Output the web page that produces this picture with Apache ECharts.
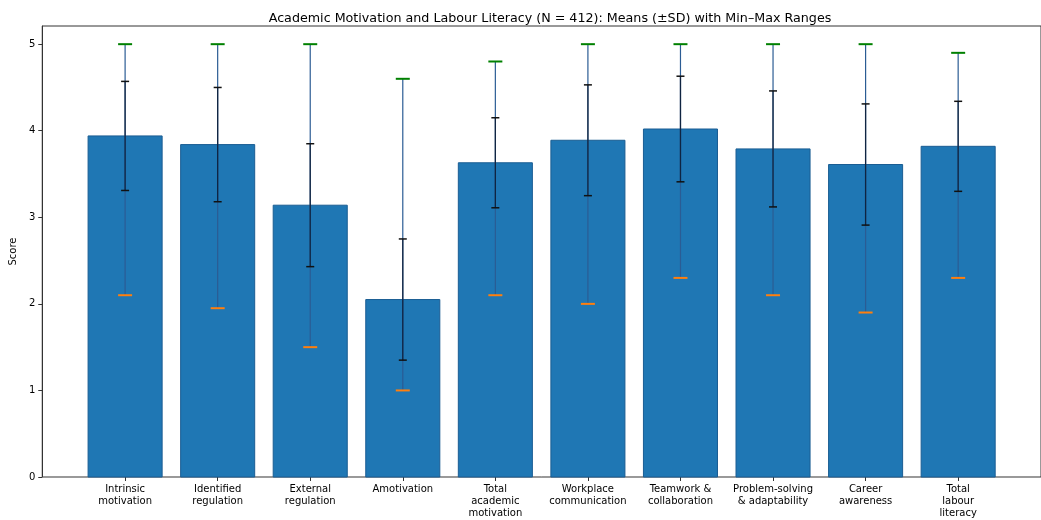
<!DOCTYPE html>
<html>
<head>
<meta charset="utf-8">
<script src="https://cdn.jsdelivr.net/npm/echarts@6/dist/echarts.min.js"></script>
<style>
  html, body { margin: 0; padding: 0; background: #ffffff; }
  #chart { width: 1041px; height: 520px; }
</style>
</head>
<body>
<div id="chart"></div>
<script>
// Subscale summaries (N = 412)
const categories = [
  'Intrinsic\nmotivation',
  'Identified\nregulation',
  'External\nregulation',
  'Amotivation',
  'Total\nacademic\nmotivation',
  'Workplace\ncommunication',
  'Teamwork &\ncollaboration',
  'Problem-solving\n& adaptability',
  'Career\nawareness',
  'Total\nlabour\nliteracy'
];
const means = [3.94, 3.84, 3.14, 2.05, 3.63, 3.89, 4.02, 3.79, 3.61, 3.82];
const sds   = [0.63, 0.66, 0.71, 0.70, 0.52, 0.64, 0.61, 0.67, 0.70, 0.52];
const mins  = [2.10, 1.95, 1.50, 1.00, 2.10, 2.00, 2.30, 2.10, 1.90, 2.30];
const maxs  = [5.00, 5.00, 5.00, 4.60, 4.80, 5.00, 5.00, 5.00, 5.00, 4.90];
const yTicks = [0, 1, 2, 3, 4, 5];

const FONT = 'DejaVu Sans';
const BAR_HALF = 0.4;

const rows = categories.map((c, i) => [i, means[i], sds[i], mins[i], maxs[i]]);
const catIdx = categories.map((c, i) => i);

function hLine(x0, x1, y, color, width, opacity) {
  return {
    type: 'line',
    shape: { x1: x0, y1: y, x2: x1, y2: y },
    style: { stroke: color, lineWidth: width, opacity: opacity == null ? 1 : opacity }
  };
}

function renderBar(params, api) {
  const i = api.value(0), m = api.value(1);
  const p0 = api.coord([i - BAR_HALF, m]);
  const p1 = api.coord([i + BAR_HALF, 0]);
  return {
    type: 'rect',
    shape: { x: p0[0], y: p0[1], width: p1[0] - p0[0], height: p1[1] - p0[1] },
    style: { fill: '#1f77b4', stroke: '#1a5d93', lineWidth: 1 }
  };
}

function renderRange(params, api) {
  const i = api.value(0);
  const lo = api.coord([i, api.value(3)]);
  const hi = api.coord([i, api.value(4)]);
  const cw = 7;
  return {
    type: 'group',
    children: [
      { type: 'line', shape: { x1: lo[0], y1: lo[1], x2: hi[0], y2: hi[1] },
        style: { stroke: '#2b5c94', lineWidth: 1.2 } },
      hLine(lo[0] - cw, lo[0] + cw, lo[1], '#ff7f0e', 2),
      hLine(hi[0] - cw, hi[0] + cw, hi[1], '#008000', 2)
    ]
  };
}

function renderSd(params, api) {
  const i = api.value(0), m = api.value(1), s = api.value(2);
  const lo = api.coord([i, m - s]);
  const hi = api.coord([i, m + s]);
  const cw = 4;
  return {
    type: 'group',
    children: [
      { type: 'line', shape: { x1: lo[0], y1: lo[1], x2: hi[0], y2: hi[1] },
        style: { stroke: '#0a1a33', lineWidth: 1.3, opacity: 0.85 } },
      hLine(lo[0] - cw, lo[0] + cw, lo[1], '#111111', 1.5),
      hLine(hi[0] - cw, hi[0] + cw, hi[1], '#111111', 1.5)
    ]
  };
}

const chart = echarts.init(document.getElementById('chart'), null, { renderer: 'canvas' });

chart.setOption({
  animation: false,
  backgroundColor: '#ffffff',
  title: {
    text: 'Academic Motivation and Labour Literacy (N = 412): Means (\u00B1SD) with Min\u2013Max Ranges',
    left: 545,
    textAlign: 'center',
    top: 7,
    textStyle: { fontFamily: FONT, fontSize: 12.7, fontWeight: 'normal', color: '#000000' }
  },
  grid: {
    left: 39, right: -10, top: 26, bottom: 43,
    show: true, borderColor: '#333333', borderWidth: 1, backgroundColor: 'transparent'
  },
  xAxis: {
    type: 'value',
    min: -0.895,
    max: 9.895,
    splitLine: { show: false },
    axisLine: { show: true, onZero: false, lineStyle: { color: '#9a9a9a', width: 1.2 } },
    axisTick: { show: true, customValues: catIdx, length: 4, lineStyle: { color: '#333333' } },
    axisLabel: {
      customValues: catIdx,
      formatter: v => categories[Math.round(v)],
      fontFamily: FONT, fontSize: 10, color: '#000000',
      lineHeight: 12, margin: 6, align: 'center'
    }
  },
  yAxis: {
    type: 'value',
    min: 0,
    max: 5.21,
    name: 'Score',
    nameLocation: 'middle',
    nameGap: 22,
    nameTextStyle: { fontFamily: FONT, fontSize: 10, color: '#000000' },
    splitLine: { show: false },
    axisLine: { show: true, onZero: false, lineStyle: { color: '#333333' } },
    axisTick: { show: true, customValues: yTicks, length: 4, lineStyle: { color: '#333333' } },
    axisLabel: {
      customValues: yTicks,
      fontFamily: FONT, fontSize: 10, color: '#000000', margin: 7
    }
  },
  series: [
    { type: 'custom', name: 'Mean', renderItem: renderBar, data: rows, z: 2,
      encode: { x: 0, y: 1 } },
    { type: 'custom', name: 'Min\u2013Max', renderItem: renderRange, data: rows, z: 3,
      encode: { x: 0, y: [3, 4] } },
    { type: 'custom', name: 'SD', renderItem: renderSd, data: rows, z: 4,
      encode: { x: 0, y: 1 } }
  ]
});
</script>
</body>
</html>
